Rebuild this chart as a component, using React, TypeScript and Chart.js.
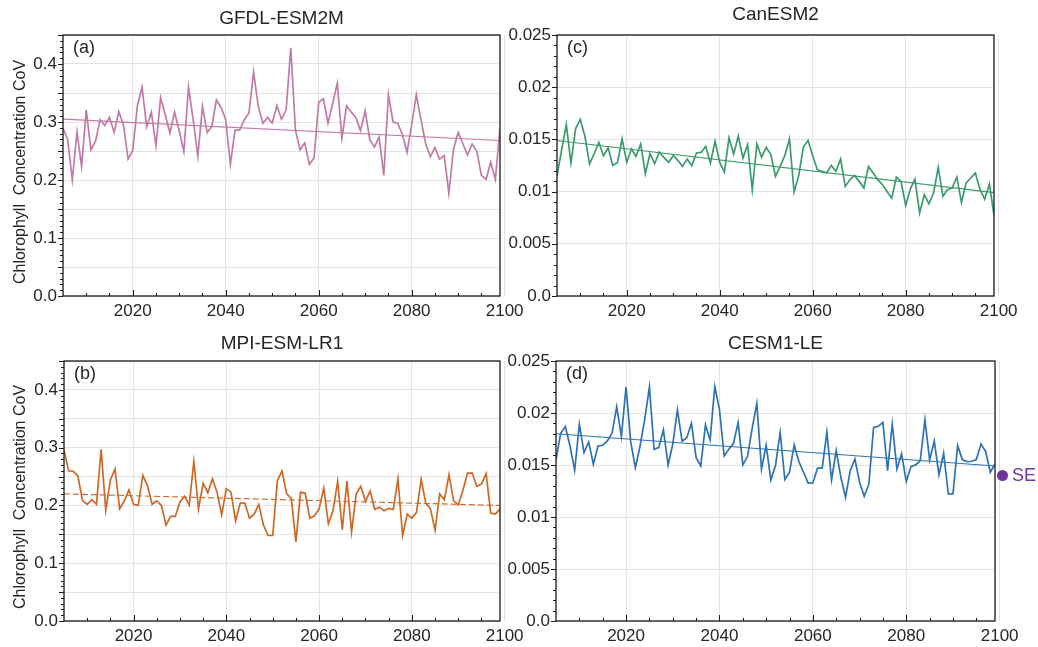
import React, { useEffect, useRef } from 'react';
import { Chart, registerables } from 'chart.js';

Chart.register(...registerables);

// ---------- data ----------
const YEARS = [
  2005, 2006, 2007, 2008, 2009, 2010, 2011, 2012, 2013, 2014,
  2015, 2016, 2017, 2018, 2019, 2020, 2021, 2022, 2023, 2024,
  2025, 2026, 2027, 2028, 2029, 2030, 2031, 2032, 2033, 2034,
  2035, 2036, 2037, 2038, 2039, 2040, 2041, 2042, 2043, 2044,
  2045, 2046, 2047, 2048, 2049, 2050, 2051, 2052, 2053, 2054,
  2055, 2056, 2057, 2058, 2059, 2060, 2061, 2062, 2063, 2064,
  2065, 2066, 2067, 2068, 2069, 2070, 2071, 2072, 2073, 2074,
  2075, 2076, 2077, 2078, 2079, 2080, 2081, 2082, 2083, 2084,
  2085, 2086, 2087, 2088, 2089, 2090, 2091, 2092, 2093, 2094,
  2095, 2096, 2097, 2098, 2099,
];

const X_TICKS = [2020, 2040, 2060, 2080, 2100];
const X_MINOR_TICKS = [
  2010, 2015, 2020, 2025, 2030, 2035, 2040, 2045, 2050, 2055,
  2060, 2065, 2070, 2075, 2080, 2085, 2090, 2095,
];

const GFDL_COV = [
  0.289, 0.270, 0.200, 0.283, 0.223, 0.321, 0.252, 0.267, 0.304, 0.294,
  0.308, 0.282, 0.318, 0.295, 0.236, 0.251, 0.328, 0.360, 0.292, 0.317,
  0.259, 0.342, 0.312, 0.281, 0.317, 0.285, 0.249, 0.360, 0.304, 0.241,
  0.327, 0.282, 0.292, 0.338, 0.325, 0.304, 0.227, 0.286, 0.286, 0.304,
  0.315, 0.386, 0.327, 0.298, 0.308, 0.298, 0.328, 0.305, 0.321, 0.428,
  0.286, 0.252, 0.264, 0.227, 0.238, 0.334, 0.340, 0.298, 0.332, 0.367,
  0.272, 0.328, 0.317, 0.308, 0.285, 0.319, 0.269, 0.257, 0.274, 0.208,
  0.347, 0.300, 0.298, 0.278, 0.248, 0.295, 0.347, 0.304, 0.263, 0.240,
  0.256, 0.236, 0.242, 0.177, 0.253, 0.282, 0.263, 0.243, 0.262, 0.250,
  0.208, 0.201, 0.231, 0.201, 0.289,
];

const MPI_COV = [
  0.295, 0.260, 0.259, 0.251, 0.208, 0.202, 0.210, 0.202, 0.297, 0.192,
  0.244, 0.263, 0.194, 0.208, 0.227, 0.202, 0.200, 0.252, 0.234, 0.202,
  0.208, 0.200, 0.166, 0.181, 0.181, 0.206, 0.216, 0.201, 0.276, 0.194,
  0.238, 0.222, 0.246, 0.223, 0.184, 0.229, 0.223, 0.173, 0.204, 0.204,
  0.178, 0.185, 0.202, 0.166, 0.148, 0.148, 0.243, 0.260, 0.220, 0.212,
  0.137, 0.223, 0.221, 0.178, 0.182, 0.194, 0.230, 0.168, 0.191, 0.242,
  0.158, 0.242, 0.154, 0.220, 0.233, 0.207, 0.225, 0.193, 0.197, 0.191,
  0.195, 0.193, 0.246, 0.148, 0.185, 0.178, 0.188, 0.245, 0.204, 0.194,
  0.157, 0.220, 0.210, 0.253, 0.208, 0.201, 0.226, 0.256, 0.256, 0.233,
  0.237, 0.255, 0.187, 0.185, 0.194,
];

const CAN_COV = [
  0.0115, 0.0140, 0.01642, 0.01274, 0.01603, 0.01690, 0.01530, 0.01264, 0.01363, 0.01472,
  0.01344, 0.01418, 0.01251, 0.01280, 0.01504, 0.01280, 0.01408, 0.01338, 0.01456, 0.01171,
  0.01363, 0.01267, 0.01379, 0.01328, 0.01280, 0.01344, 0.01299, 0.01242, 0.01312, 0.01248,
  0.01370, 0.01376, 0.01434, 0.01274, 0.01482, 0.01280, 0.01187, 0.01514, 0.01360, 0.01530,
  0.01322, 0.01450, 0.01018, 0.01456, 0.01328, 0.01424, 0.01354, 0.01146, 0.01242, 0.01344,
  0.01504, 0.00995, 0.01155, 0.01427, 0.01491, 0.01344, 0.01210, 0.01194, 0.01178, 0.01251,
  0.01194, 0.01312, 0.01050, 0.01114, 0.01155, 0.01098, 0.01034, 0.01242, 0.01178, 0.01114,
  0.01066, 0.01002, 0.00938, 0.01139, 0.01098, 0.00867, 0.01024, 0.01120, 0.00794, 0.00970,
  0.00883, 0.00986, 0.01232, 0.00955, 0.01018, 0.01034, 0.01139, 0.00896, 0.01082, 0.01130,
  0.01178, 0.01018, 0.00928, 0.01072, 0.00778,
];

const CESM_COV = [
  0.0155, 0.01805, 0.01869, 0.01683, 0.01450, 0.01891, 0.01619, 0.01722, 0.01507, 0.01683,
  0.01690, 0.01731, 0.01805, 0.02061, 0.01773, 0.02250, 0.01722, 0.01475, 0.01683, 0.01939,
  0.02250, 0.01651, 0.01667, 0.01837, 0.01501, 0.01699, 0.02029, 0.01728, 0.01763, 0.01901,
  0.01571, 0.01491, 0.01885, 0.01741, 0.02253, 0.02035, 0.01587, 0.01651, 0.01709, 0.01907,
  0.01501, 0.01581, 0.01853, 0.02093, 0.01459, 0.01690, 0.01357, 0.01494, 0.01814, 0.01360,
  0.01430, 0.01693, 0.01533, 0.01430, 0.01325, 0.01328, 0.01469, 0.01469, 0.01814, 0.01357,
  0.01638, 0.01382, 0.01190, 0.01446, 0.01558, 0.01334, 0.01200, 0.01318, 0.01862, 0.01872,
  0.01910, 0.01446, 0.01894, 0.01462, 0.01606, 0.01341, 0.01485, 0.01501, 0.01542, 0.01933,
  0.01549, 0.01731, 0.01405, 0.01613, 0.01222, 0.01222, 0.01686, 0.01552, 0.01533, 0.01536,
  0.01552, 0.01702, 0.01629, 0.01430, 0.01510,
];

const TREND_YEARS = [2005, 2099];
const GFDL_TREND = [0.305, 0.268];
const MPI_TREND = [0.220, 0.200];
const CAN_TREND = [0.0149, 0.0099];
const CESM_TREND = [0.0180, 0.0149];

const Y_TITLE = 'Chlorophyll  Concentration CoV';
const SE_LABEL = 'SE';

// ---------- styles ----------
const FONT = '"Liberation Sans", Arial, Helvetica, sans-serif';
const TEXT = '#262626';
const GRID = '#e4e4e4';
const AXIS = '#1a1a1a';

type PanelDef = {
  title: string;
  tag: string;
  values: number[];
  trend: number[];
  color: string;
  dashed: boolean;
  yMax: number;
  yStep: number;
  yMinor: number;
  labelEvery: number;
  digits: number;
  left: number;
  top: number;
  w: number;
  h: number;
  padTop: number;
  padRight: number;
  yWidth: number;
  xHeight: number;
  titleTop: number;
};

const PANELS: PanelDef[] = [
  {
    title: 'GFDL-ESM2M', tag: '(a)', values: GFDL_COV, trend: GFDL_TREND, color: '#c27aa6', dashed: false,
    yMax: 0.45, yStep: 0.05, yMinor: 0.01, labelEvery: 2, digits: 1,
    left: 0, top: 0, w: 544, h: 325, padTop: 35, padRight: 44, yWidth: 63, xHeight: 29, titleTop: 8,
  },
  {
    title: 'MPI-ESM-LR1', tag: '(b)', values: MPI_COV, trend: MPI_TREND, color: '#cf6827', dashed: true,
    yMax: 0.45, yStep: 0.05, yMinor: 0.01, labelEvery: 2, digits: 1,
    left: 0, top: 325, w: 544, h: 322, padTop: 36, padRight: 44, yWidth: 64, xHeight: 26, titleTop: 333,
  },
  {
    title: 'CanESM2', tag: '(c)', values: CAN_COV, trend: CAN_TREND, color: '#3d9a6f', dashed: false,
    yMax: 0.025, yStep: 0.005, yMinor: 0.001, labelEvery: 1, digits: 3,
    left: 500, top: 0, w: 538, h: 325, padTop: 35, padRight: 44, yWidth: 57, xHeight: 29, titleTop: 4,
  },
  {
    title: 'CESM1-LE', tag: '(d)', values: CESM_COV, trend: CESM_TREND, color: '#2e72b3', dashed: false,
    yMax: 0.025, yStep: 0.005, yMinor: 0.001, labelEvery: 1, digits: 3,
    left: 500, top: 325, w: 538, h: 322, padTop: 36, padRight: 43, yWidth: 56, xHeight: 26, titleTop: 333,
  },
];

const framePlugin = {
  id: 'frame',
  afterDraw(chart: any, _args: any, opts: any) {
    const { ctx, chartArea } = chart;
    const { left, right, top, bottom } = chartArea;
    const xs = chart.scales.x;
    const ys = chart.scales.y;
    ctx.save();
    ctx.strokeStyle = AXIS;
    ctx.lineWidth = 1;
    // x ticks (inward)
    X_MINOR_TICKS.forEach((v) => {
      const px = Math.round(xs.getPixelForValue(v)) + 0.5;
      const len = X_TICKS.includes(v) ? 6 : 3;
      ctx.beginPath();
      ctx.moveTo(px, bottom);
      ctx.lineTo(px, bottom - len);
      ctx.stroke();
    });
    // y ticks (outward)
    const n = Math.round(opts.yMax / opts.yMinor);
    const per = Math.round(opts.yStep / opts.yMinor);
    for (let i = 0; i <= n; i++) {
      const py = Math.round(ys.getPixelForValue(i * opts.yMinor)) + 0.5;
      const len = i % per === 0 ? 5 : 3;
      ctx.beginPath();
      ctx.moveTo(left, py);
      ctx.lineTo(left - len, py);
      ctx.stroke();
    }
    // frame
    ctx.lineWidth = 1.3;
    ctx.strokeRect(left, top, right - left, bottom - top);
    // panel tag
    ctx.fillStyle = TEXT;
    ctx.font = `18px ${FONT}`;
    ctx.textBaseline = 'top';
    ctx.textAlign = 'left';
    ctx.fillText(opts.tag, left + 10, top + 4);
    ctx.restore();
  },
};

function Panel({ p }: { p: PanelDef }) {
  const ref = useRef<HTMLCanvasElement>(null);
  useEffect(() => {
    const chart = new Chart(ref.current as HTMLCanvasElement, {
      type: 'line',
      data: {
        datasets: [
          {
            data: p.values.map((v, i) => ({ x: YEARS[i], y: v })),
            borderColor: p.color,
            borderWidth: 1.7,
            pointRadius: 0,
            tension: 0,
          },
          {
            data: TREND_YEARS.map((x, i) => ({ x, y: p.trend[i] })),
            borderColor: p.color,
            borderWidth: 1.1,
            pointRadius: 0,
            borderDash: p.dashed ? [6, 3] : [],
          },
        ],
      },
      options: {
        responsive: false,
        animation: false,
        layout: { padding: { top: p.padTop, right: p.padRight, left: 0, bottom: 0 } },
        plugins: {
          legend: { display: false },
          tooltip: { enabled: false },
          title: { display: false },
          // @ts-ignore
          frame: { tag: p.tag, yMax: p.yMax, yStep: p.yStep, yMinor: p.yMinor },
        },
        scales: {
          x: {
            type: 'linear',
            min: 2005,
            max: 2099,
            afterBuildTicks: (s: any) => {
              s.ticks = X_TICKS.map((v) => ({ value: v }));
            },
            afterFit: (s: any) => {
              s.height = p.xHeight;
            },
            ticks: {
              autoSkip: false,
              maxRotation: 0,
              padding: 5,
              color: TEXT,
              font: { family: FONT, size: 17 },
              callback: (v: any) => String(v),
            },
            grid: { color: GRID, lineWidth: 1, drawTicks: false },
            border: { display: false },
          },
          y: {
            type: 'linear',
            min: 0,
            max: p.yMax,
            afterFit: (s: any) => {
              s.width = p.yWidth;
            },
            ticks: {
              stepSize: p.yStep,
              padding: 6,
              color: TEXT,
              font: { family: FONT, size: 17 },
              callback: (v: any) => {
                const k = Math.round(Number(v) / p.yStep);
                if (k % p.labelEvery !== 0) return '';
                const val = k * p.yStep;
                if (p.digits === 1) return val.toFixed(1);
                if (k === 0) return '0.0';
                return String(parseFloat(val.toFixed(3)));
              },
            },
            grid: { color: GRID, lineWidth: 1, drawTicks: false },
            border: { display: false },
          },
        },
      },
      plugins: [framePlugin],
    } as any);
    return () => chart.destroy();
  }, [p]);

  const plotCenter = p.left + p.yWidth + (p.w - p.padRight - p.yWidth) / 2;
  return (
    <>
      <canvas
        ref={ref}
        width={p.w}
        height={p.h}
        style={{ position: 'absolute', left: p.left, top: p.top, width: p.w, height: p.h }}
      />
      <div
        style={{
          position: 'absolute',
          left: plotCenter - 150,
          width: 300,
          top: p.titleTop,
          textAlign: 'center',
          font: `19px ${FONT}`,
          lineHeight: '19px',
          color: TEXT,
          whiteSpace: 'nowrap',
        }}
      >
        {p.title}
      </div>
    </>
  );
}

function YTitle({ cy }: { cy: number }) {
  return (
    <div
      style={{
        position: 'absolute',
        left: 20,
        top: cy,
        transform: 'translate(-50%, -50%) rotate(-90deg)',
        font: `16px ${FONT}`,
        color: TEXT,
        whiteSpace: 'pre',
        lineHeight: '18px',
      }}
    >
      {Y_TITLE}
    </div>
  );
}

export default function App() {
  return (
    <div
      style={{
        position: 'fixed',
        left: 0,
        top: 0,
        width: 1038,
        height: 647,
        background: '#ffffff',
        overflow: 'hidden',
      }}
    >
      {PANELS.map((p) => (
        <Panel key={p.tag} p={p} />
      ))}
      <YTitle cy={172} />
      <YTitle cy={497} />
      <div
        style={{
          position: 'absolute',
          left: 997,
          top: 470,
          width: 11,
          height: 11,
          borderRadius: '50%',
          background: '#7131a1',
        }}
      />
      <div
        style={{
          position: 'absolute',
          left: 1012,
          top: 465,
          font: `18px ${FONT}`,
          lineHeight: '20px',
          color: '#7131a1',
        }}
      >
        {SE_LABEL}
      </div>
    </div>
  );
}
